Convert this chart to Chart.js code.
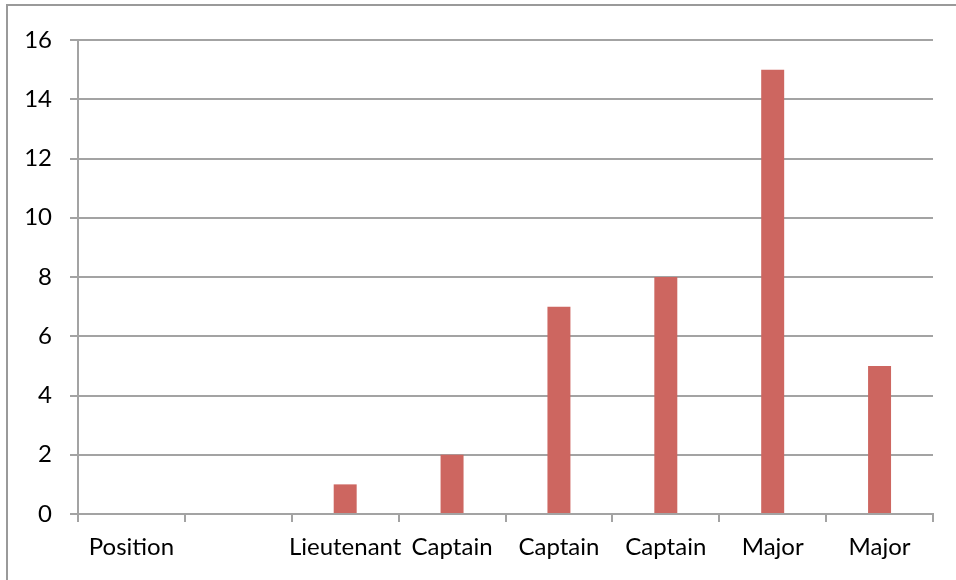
<!DOCTYPE html>
<html>
<head>
<meta charset="utf-8">
<script src="https://cdn.jsdelivr.net/npm/chart.js@4"></script>
<style>
  html, body { margin: 0; padding: 0; background: #fff; }
  #wrap { width: 956px; height: 580px; }
</style>
</head>
<body>
<div id="wrap"><canvas id="chart" width="956" height="580"></canvas></div>
<script>
// Categories along the x axis
const categories = ["Position", "", "Lieutenant", "Captain", "Captain", "Captain", "Major", "Major"];
// Counts per category (no bar for the first two)
const counts = [null, null, 1, 2, 7, 8, 15, 5];
// Value axis ticks
const yTicks = [0, 2, 4, 6, 8, 10, 12, 14, 16];

const gridGrey = "#a3a3a3";
const barColor = "#cd6660";
const fontFamily = "Lato, 'Open Sans', sans-serif";

// Thin frame around the whole chart
const framePlugin = {
  id: "frame",
  beforeDraw(chart) {
    const ctx = chart.ctx;
    ctx.save();
    ctx.fillStyle = "#fff";
    ctx.fillRect(0, 0, chart.width, chart.height);
    ctx.strokeStyle = "#9a9a9a";
    ctx.lineWidth = 2;
    ctx.strokeRect(7, 5, chart.width + 20, chart.height + 20);
    ctx.restore();
  }
};

new Chart(document.getElementById("chart"), {
  type: "bar",
  data: {
    labels: categories,
    datasets: [{
      data: counts,
      backgroundColor: barColor,
      borderWidth: 0,
      categoryPercentage: 1,
      barPercentage: 0.215
    }]
  },
  options: {
    responsive: false,
    animation: false,
    devicePixelRatio: 1,
    layout: { padding: { left: 0, top: 40, right: 23, bottom: 0 } },
    plugins: { legend: { display: false }, tooltip: { enabled: false } },
    scales: {
      x: {
        offset: true,
        grid: {
          display: true,
          drawOnChartArea: false,
          drawTicks: true,
          tickLength: 8,
          color: gridGrey,
          lineWidth: 2,
          offset: true
        },
        border: { display: true, color: gridGrey, width: 2 },
        ticks: {
          color: "#000",
          font: { family: fontFamily, size: 24 },
          padding: 11,
          maxRotation: 0,
          autoSkip: false
        },
        afterFit(scale) { scale.height = 66; }
      },
      y: {
        min: 0,
        max: 16,
        afterBuildTicks(scale) { scale.ticks = yTicks.map(v => ({ value: v })); },
        grid: {
          color: gridGrey,
          lineWidth: 2,
          tickLength: 8
        },
        border: { display: true, color: gridGrey, width: 2 },
        ticks: {
          color: "#000",
          font: { family: fontFamily, size: 24 },
          padding: 18
        },
        afterFit(scale) { scale.width = 78; }
      }
    }
  },
  plugins: [framePlugin]
});
</script>
</body>
</html>
